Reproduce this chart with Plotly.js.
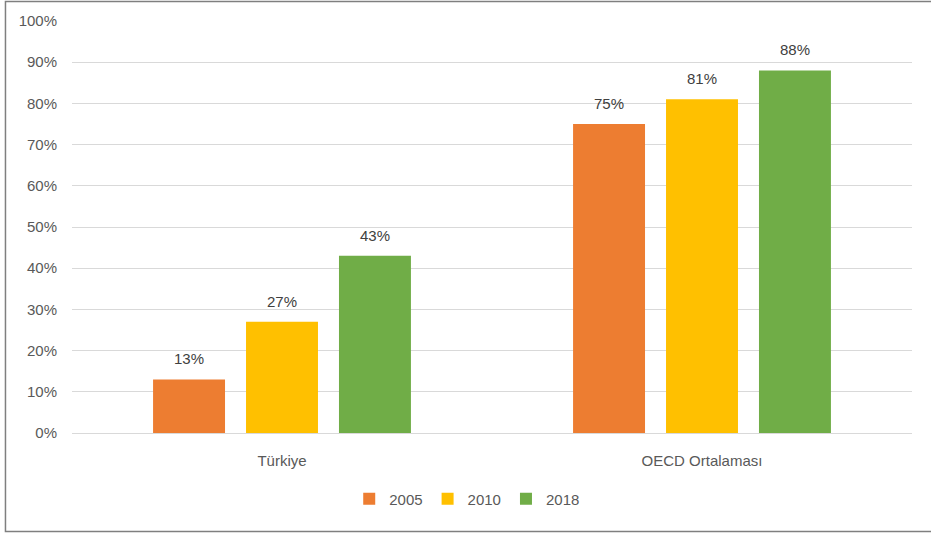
<!DOCTYPE html>
<html>
<head>
<meta charset="utf-8">
<script src="https://cdn.plot.ly/plotly-3.0.1.min.js"></script>
<style>html,body{margin:0;padding:0;background:#fff;}#chart{width:931px;height:533px;}</style>
</head>
<body>
<div id="chart"></div>
<script>
const categories = ["Türkiye", "OECD Ortalaması"];
const seriesNames = ["2005", "2010", "2018"];
const values2005 = [13, 75];
const values2010 = [27, 81];
const values2018 = [43, 88];
const colors = ["#ED7D31", "#FFC000", "#70AD47"];
const yTickVals = [0,10,20,30,40,50,60,70,80,90,100];
const yTickText = ["0%","10%","20%","30%","40%","50%","60%","70%","80%","90%","100%"];

const allValues = [values2005, values2010, values2018];
const font = {family: "Liberation Sans, Arial, sans-serif", size: 15, color: "#595959"};

const traces = allValues.map((vals, i) => ({
  type: "bar",
  name: seriesNames[i],
  x: categories,
  y: vals,
  marker: {color: colors[i]},
  hoverinfo: "none"
}));

// data labels above bars (offset per series slot within the group)
const slotPx = 93;
const annotations = [];
allValues.forEach((vals, i) => {
  vals.forEach((v, j) => {
    annotations.push({
      x: categories[j], y: v, xref: "x", yref: "y",
      text: v + "%", showarrow: false,
      xanchor: "center", yanchor: "bottom",
      xshift: (i - 1) * slotPx, yshift: 10,
      font: {family: font.family, size: 15, color: "#404040"}
    });
  });
});

const layout = {
  width: 931, height: 533,
  margin: {l: 72, r: 19, t: 21, b: 100},
  paper_bgcolor: "#fff", plot_bgcolor: "#fff",
  font: font,
  barmode: "group",
  bargap: 0.336,
  bargroupgap: 0.226,
  showlegend: true,
  legend: {orientation: "h", x: 0.4705, xanchor: "center", y: -0.16, yanchor: "middle",
           font: {family: font.family, size: 15, color: "#595959"}, itemwidth: 30},
  xaxis: {showgrid: false, showline: true, linecolor: "#d9d9d9", linewidth: 1,
          ticks: "", ticklabelstandoff: 14, tickfont: font, fixedrange: true},
  yaxis: {range: [0, 100], tickvals: yTickVals, ticktext: yTickText,
          showgrid: true, gridcolor: "#d9d9d9", gridwidth: 1, zeroline: false,
          showline: false, ticks: "", ticklabelstandoff: 14, tickfont: font, fixedrange: true},
  annotations: annotations,
  shapes: [{type: "rect", xref: "paper", yref: "paper",
            x0: -0.0792, x1: 1.0238, y0: -0.2391, y1: 1.0473,
            line: {color: "#7f7f7f", width: 1.5}, fillcolor: "rgba(0,0,0,0)", layer: "above"}]
};

Plotly.newPlot("chart", traces, layout, {displayModeBar: false, staticPlot: true});
</script>
</body>
</html>
